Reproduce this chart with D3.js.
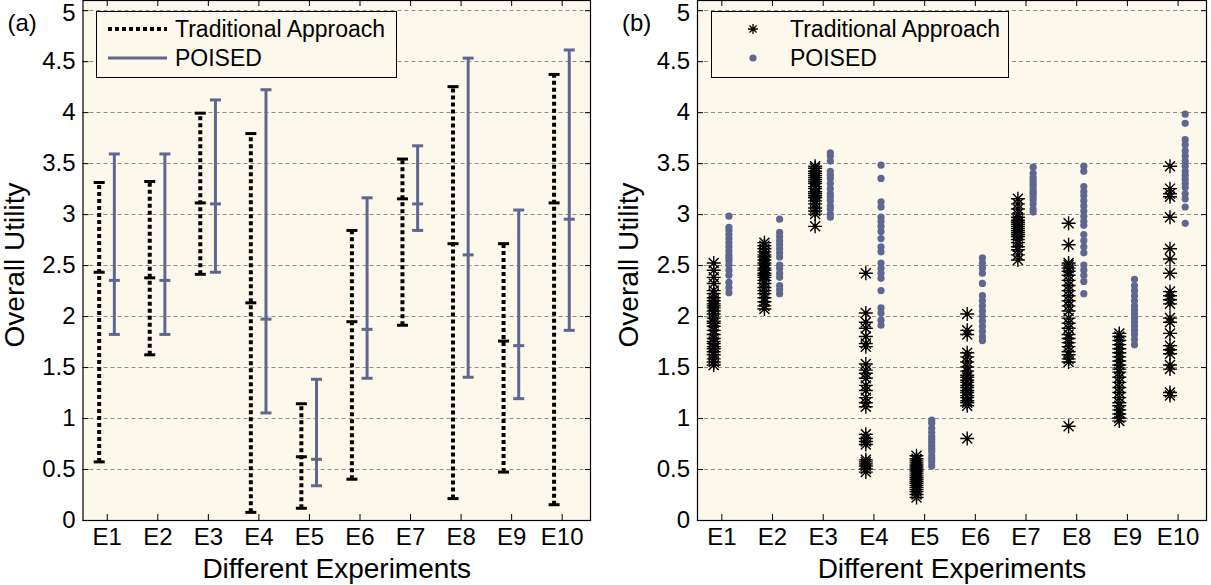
<!DOCTYPE html>
<html>
<head>
<meta charset="utf-8">
<script src="https://cdn.jsdelivr.net/npm/d3@7"></script>
<style>
  body { margin: 0; background: #fff; }
  svg { display: block; font-family: "Liberation Sans", Arial, sans-serif; }
  .grid line { stroke: #8c8c8c; stroke-dasharray: 4,3; stroke-width: 1; }
  .axis path { display: none; }
  .axis line { stroke: #000; }
  .axis text { font-size: 24px; fill: #000; }
</style>
</head>
<body>
<div id="chart"></div>
<script>
const experiments = ["E1", "E2", "E3", "E4", "E5", "E6", "E7", "E8", "E9", "E10"];
const yTicks = [0, 0.5, 1, 1.5, 2, 2.5, 3, 3.5, 4, 4.5, 5];

// (a) error bars: low / mean / high per experiment
const tradLow = [0.57, 1.62, 2.41, 0.075, 0.115, 0.40, 1.91, 0.21, 0.47, 0.15];
const tradMean = [2.43, 2.375, 3.11, 2.13, 0.62, 1.945, 3.15, 2.71, 1.755, 3.11];
const tradHigh = [3.31, 3.32, 3.99, 3.79, 1.14, 2.84, 3.54, 4.25, 2.71, 4.37];
const poisedLow = [1.82, 1.82, 2.43, 1.05, 0.336, 1.39, 2.84, 1.40, 1.19, 1.86];
const poisedMean = [2.35, 2.35, 3.10, 1.97, 0.595, 1.87, 3.10, 2.60, 1.71, 2.95];
const poisedHigh = [3.59, 3.59, 4.12, 4.22, 1.38, 3.16, 3.67, 4.53, 3.04, 4.61];

// (b) individual runs
const tradPoints = [
  [1.52, 1.55, 1.58, 1.62, 1.65, 1.68, 1.70, 1.73, 1.75, 1.78, 1.82, 1.86, 1.90, 1.93, 1.95, 1.98, 2.02, 2.05, 2.08, 2.10, 2.12, 2.15, 2.18, 2.22, 2.25, 2.32, 2.38, 2.45, 2.52],
  [2.07, 2.10, 2.14, 2.18, 2.22, 2.25, 2.28, 2.32, 2.35, 2.38, 2.40, 2.42, 2.45, 2.47, 2.50, 2.52, 2.55, 2.58, 2.60, 2.63, 2.66, 2.69, 2.72],
  [2.88, 3.00, 3.03, 3.06, 3.10, 3.13, 3.16, 3.18, 3.20, 3.22, 3.25, 3.27, 3.30, 3.32, 3.34, 3.36, 3.38, 3.40, 3.42, 3.45, 3.47],
  [2.42, 2.03, 1.94, 1.88, 1.80, 1.73, 1.70, 1.53, 1.47, 1.44, 1.39, 1.32, 1.27, 1.20, 1.15, 1.11, 0.84, 0.80, 0.77, 0.74, 0.59, 0.57, 0.55, 0.53, 0.50, 0.47],
  [0.22, 0.25, 0.28, 0.30, 0.32, 0.34, 0.36, 0.38, 0.40, 0.42, 0.44, 0.46, 0.48, 0.50, 0.52, 0.54, 0.56, 0.58, 0.60, 0.63],
  [2.02, 1.86, 1.82, 1.64, 1.60, 1.55, 1.50, 1.46, 1.42, 1.40, 1.37, 1.35, 1.32, 1.30, 1.27, 1.25, 1.22, 1.20, 1.17, 1.15, 1.12, 0.80],
  [3.15, 3.10, 3.05, 3.00, 2.97, 2.94, 2.92, 2.90, 2.88, 2.86, 2.84, 2.82, 2.80, 2.78, 2.75, 2.72, 2.68, 2.65, 2.60, 2.55],
  [2.91, 2.70, 2.52, 2.50, 2.47, 2.44, 2.40, 2.35, 2.30, 2.25, 2.20, 2.15, 2.10, 2.05, 1.98, 1.93, 1.88, 1.82, 1.78, 1.74, 1.70, 1.65, 1.62, 1.58, 1.55, 0.92],
  [1.83, 1.80, 1.76, 1.72, 1.68, 1.64, 1.60, 1.56, 1.52, 1.48, 1.45, 1.40, 1.35, 1.30, 1.25, 1.20, 1.15, 1.12, 1.08, 1.04, 1.00, 0.97],
  [3.47, 3.25, 3.20, 3.17, 2.97, 2.66, 2.56, 2.42, 2.24, 2.20, 2.16, 2.12, 1.98, 1.94, 1.83, 1.71, 1.67, 1.63, 1.52, 1.48, 1.25, 1.22],
];
const poisedPoints = [
  [2.98, 2.87, 2.84, 2.80, 2.76, 2.72, 2.68, 2.64, 2.60, 2.57, 2.54, 2.50, 2.45, 2.40, 2.33, 2.28, 2.23],
  [2.95, 2.82, 2.78, 2.74, 2.70, 2.66, 2.62, 2.58, 2.50, 2.47, 2.42, 2.38, 2.30, 2.26, 2.22],
  [3.60, 3.57, 3.52, 3.42, 3.38, 3.35, 3.30, 3.25, 3.20, 3.17, 3.13, 3.08, 3.05, 3.00, 2.97],
  [3.48, 3.35, 3.12, 3.07, 2.97, 2.93, 2.88, 2.83, 2.76, 2.68, 2.63, 2.52, 2.47, 2.42, 2.37, 2.25, 2.08, 2.03, 1.96, 1.91],
  [0.98, 0.95, 0.90, 0.86, 0.82, 0.79, 0.76, 0.73, 0.70, 0.67, 0.63, 0.60, 0.57, 0.53],
  [2.57, 2.52, 2.47, 2.42, 2.32, 2.20, 2.15, 2.10, 2.05, 2.00, 1.95, 1.90, 1.85, 1.80, 1.76],
  [3.46, 3.40, 3.36, 3.33, 3.30, 3.28, 3.25, 3.22, 3.20, 3.17, 3.14, 3.10, 3.05, 3.02],
  [3.47, 3.42, 3.27, 3.22, 3.18, 3.13, 3.08, 3.03, 2.98, 2.93, 2.89, 2.80, 2.74, 2.68, 2.62, 2.50, 2.45, 2.40, 2.34, 2.22],
  [2.36, 2.30, 2.25, 2.20, 2.15, 2.10, 2.06, 2.02, 1.98, 1.94, 1.90, 1.86, 1.82, 1.77, 1.72],
  [3.98, 3.89, 3.73, 3.68, 3.62, 3.57, 3.52, 3.47, 3.42, 3.38, 3.34, 3.30, 3.26, 3.20, 3.15, 3.07, 2.91],
];

const width = 1211;
const height = 585;
const black = "#000";
const blue = "#5f6690";
const bg = "#fdf8ec";
const offset = 0.15; // series sit either side of each tick
const capW = 11;

const svg = d3.select("#chart").append("svg")
  .attr("width", width)
  .attr("height", height);

const asterisk = "M-7,0H7M0,-7V7M-5,-5L5,5M-5,5L5,-5";

function drawPanel({ left, right, letter }) {
  const top = 0;
  const bottom = 520;
  const x = d3.scaleLinear().domain([0.52, 10.58]).range([left, right]);
  const y = d3.scaleLinear().domain([0, 5.1]).range([bottom, top]);

  const g = svg.append("g");
  g.append("rect")
    .attr("x", left).attr("y", top)
    .attr("width", right - left).attr("height", bottom - top)
    .attr("fill", bg);

  g.append("g").attr("class", "grid")
    .selectAll("line")
    .data(yTicks.filter((d) => d > 0))
    .join("line")
    .attr("x1", left).attr("x2", right)
    .attr("y1", (d) => Math.round(y(d)) + 0.5)
    .attr("y2", (d) => Math.round(y(d)) + 0.5);

  const xTickVals = d3.range(1, 11);
  g.append("g").attr("class", "axis")
    .attr("transform", `translate(0,${bottom})`)
    .call(d3.axisBottom(x).tickValues(xTickVals).tickFormat((d) => experiments[d - 1]).tickSize(-6).tickPadding(8));
  g.append("g").attr("class", "axis")
    .attr("transform", `translate(0,${top})`)
    .call(d3.axisTop(x).tickValues(xTickVals).tickFormat("").tickSize(-6));
  g.append("g").attr("class", "axis")
    .attr("transform", `translate(${left},0)`)
    .call(d3.axisLeft(y).tickValues(yTicks).tickFormat((d) => String(d)).tickSize(-6).tickPadding(7))
    .call((a) => a.selectAll(".tick text").filter((d) => d === 5).attr("dy", "0.42em"));
  g.append("g").attr("class", "axis")
    .attr("transform", `translate(${right},0)`)
    .call(d3.axisRight(y).tickValues(yTicks).tickFormat("").tickSize(-6));

  g.append("rect")
    .attr("x", left + 0.5).attr("y", top + 0.5)
    .attr("width", right - left - 1).attr("height", bottom - top)
    .attr("fill", "none").attr("stroke", black).attr("stroke-width", 1.2);

  g.append("text")
    .attr("x", left - 75).attr("y", 31)
    .attr("font-size", 24)
    .text(`(${letter})`);

  g.append("text")
    .attr("transform", `translate(${left - 59},${(top + bottom) / 2 + 5}) rotate(-90)`)
    .attr("text-anchor", "middle")
    .attr("font-size", 28)
    .text("Overall Utility");

  g.append("text")
    .attr("x", (left + right) / 2).attr("y", 578)
    .attr("text-anchor", "middle")
    .attr("font-size", 28)
    .text("Different Experiments");

  return { g, x, y };
}

// ---- panel (a)
{
  const { g, x, y } = drawPanel({ left: 82.5, right: 591, letter: "a" });

  const series = [
    { low: tradLow, mean: tradMean, high: tradHigh, dx: -offset, color: black, dash: "4,3", w: 4 },
    { low: poisedLow, mean: poisedMean, high: poisedHigh, dx: offset, color: blue, dash: null, w: 3 },
  ];

  series.forEach((s) => {
    const bars = g.append("g")
      .selectAll("g")
      .data(experiments.map((e, i) => i))
      .join("g")
      .attr("transform", (i) => `translate(${x(i + 1 + s.dx)},0)`);
    bars.append("line")
      .attr("y1", (i) => y(s.low[i])).attr("y2", (i) => y(s.high[i]))
      .attr("stroke", s.color).attr("stroke-width", s.w)
      .attr("stroke-dasharray", s.dash);
    [s.low, s.mean, s.high].forEach((arr) => {
      bars.append("line")
        .attr("x1", -capW / 2).attr("x2", capW / 2)
        .attr("y1", (i) => y(arr[i])).attr("y2", (i) => y(arr[i]))
        .attr("stroke", s.color).attr("stroke-width", 3);
    });
  });

  const lg = g.append("g");
  lg.append("rect")
    .attr("x", 96.5).attr("y", 11.5).attr("width", 300).attr("height", 66)
    .attr("fill", bg).attr("stroke", black).attr("stroke-width", 1);
  lg.append("line")
    .attr("x1", 108).attr("x2", 167).attr("y1", 29).attr("y2", 29)
    .attr("stroke", black).attr("stroke-width", 4).attr("stroke-dasharray", "4,3");
  lg.append("line")
    .attr("x1", 108).attr("x2", 167).attr("y1", 58).attr("y2", 58)
    .attr("stroke", blue).attr("stroke-width", 3);
  lg.append("text").attr("x", 175).attr("y", 37).attr("font-size", 23).text("Traditional Approach");
  lg.append("text").attr("x", 175).attr("y", 66).attr("font-size", 23).text("POISED");
}

// ---- panel (b)
{
  const { g, x, y } = drawPanel({ left: 697, right: 1207, letter: "b" });

  poisedPoints.forEach((vals, i) => {
    g.append("g")
      .selectAll("circle")
      .data(vals)
      .join("circle")
      .attr("cx", x(i + 1 + offset))
      .attr("cy", (d) => y(d))
      .attr("r", 3.6)
      .attr("fill", blue);
  });

  tradPoints.forEach((vals, i) => {
    const m = g.append("g")
      .selectAll("g")
      .data(vals)
      .join("g")
      .attr("transform", (d) => `translate(${x(i + 1 - offset)},${y(d)})`);
    m.append("path").attr("d", asterisk).attr("stroke", black).attr("stroke-width", 1.4).attr("fill", "none");
    m.append("circle").attr("r", 2).attr("fill", black);
  });

  const lg = g.append("g");
  lg.append("rect")
    .attr("x", 711.5).attr("y", 11.5).attr("width", 297).attr("height", 66)
    .attr("fill", bg).attr("stroke", black).attr("stroke-width", 1);
  lg.append("path")
    .attr("transform", "translate(753,29)")
    .attr("d", "M-5,0H5M0,-5V5M-3.5,-3.5L3.5,3.5M-3.5,3.5L3.5,-3.5")
    .attr("stroke", black).attr("stroke-width", 1.3);
  lg.append("circle").attr("cx", 753).attr("cy", 58).attr("r", 3.6).attr("fill", blue);
  lg.append("text").attr("x", 790).attr("y", 37).attr("font-size", 23).text("Traditional Approach");
  lg.append("text").attr("x", 790).attr("y", 66).attr("font-size", 23).text("POISED");
}
</script>
</body>
</html>
